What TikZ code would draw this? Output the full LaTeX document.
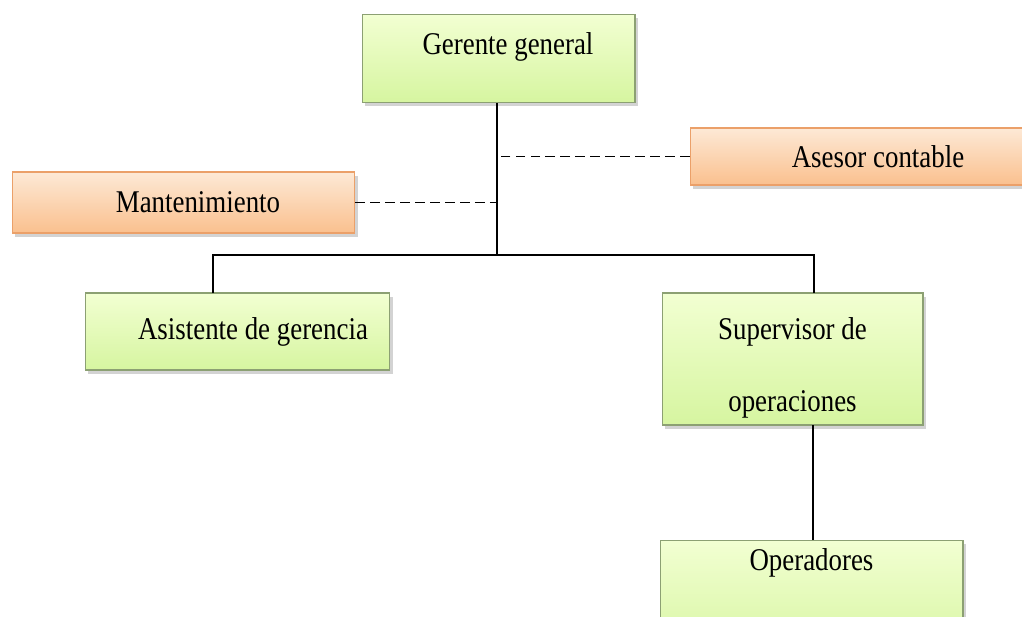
\documentclass[tikz,border=0pt]{standalone}
\usepackage{fontspec}
\setmainfont{Liberation Serif}[FakeStretch=0.85]
\usetikzlibrary{positioning,shadows}
\definecolor{greentop}{RGB}{242,255,210}
\definecolor{greenbot}{RGB}{214,245,160}
\definecolor{greenline}{RGB}{140,160,115}
\definecolor{orangetop}{RGB}{253,233,214}
\definecolor{orangebot}{RGB}{250,192,142}
\definecolor{orangeline}{RGB}{235,160,105}

\tikzset{
  chartbox/.style={draw, line width=0.6pt, inner sep=5pt,
    font=\fontsize{18}{22}\selectfont,
    drop shadow={shadow xshift=1.5pt, shadow yshift=-2pt, opacity=0.35}},
  greenbox/.style={chartbox, draw=greenline, top color=greentop, bottom color=greenbot},
  orangebox/.style={chartbox, draw=orangeline, top color=orangetop, bottom color=orangebot},
  link/.style={line width=0.9pt},
  staff/.style={line width=1.1pt, dash pattern=on 5.5pt off 3pt}
}

\begin{document}
\begin{tikzpicture}[x=0.02cm, y=-0.02cm]
    \useasboundingbox (0,0) rectangle (1022,616);

    % Gerente general
    \node[greenbox, anchor=north, minimum width=5.46cm, text height=18pt, text depth=22pt] (gerente) at (498.5,14) {\hspace*{0.38cm}Gerente general};

    % Staff (dashed)
    \node[orangebox, minimum width=6.86cm, minimum height=1.22cm] (mant) at (183.5,202.5) {\hspace*{0.58cm}Mantenimiento};
    \node[orangebox, minimum width=7.0cm, minimum height=1.14cm] (asesor) at (865,156.5) {\hspace*{0.52cm}Asesor contable};

    % Second level
    \node[greenbox, minimum width=6.1cm, minimum height=1.54cm] (asist) at (237.5,331.5) {\hspace*{0.62cm}Asistente de gerencia};
    \node[greenbox, inner ysep=2pt, minimum width=5.22cm, minimum height=2.64cm, align=center] (superv) at (792.5,359) {\rule{0pt}{23pt}Supervisor de\\[19pt]operaciones};

    % Operadores
    \node[greenbox, anchor=north, minimum width=6.06cm, text height=12pt, text depth=1.6cm] (oper) at (811.5,540) {Operadores};

    % Connection points
    \coordinate (bus) at (497,255);
    \coordinate (asistIn) at (213,293);
    \coordinate (supervIn) at (814,293);
    \coordinate (supervOut) at (813,425);

    % Lines
    \draw[link] (gerente.south -| bus) -- (bus);
    \draw[link] (asistIn) |- (bus) -| (supervIn);
    \draw[link] (supervOut) -- (supervOut |- oper.north);
    \draw[staff] (mant.east) -- (mant.east -| bus);
    \draw[staff] (asesor.west) -- (asesor.west -| bus);
\end{tikzpicture}
\end{document}
